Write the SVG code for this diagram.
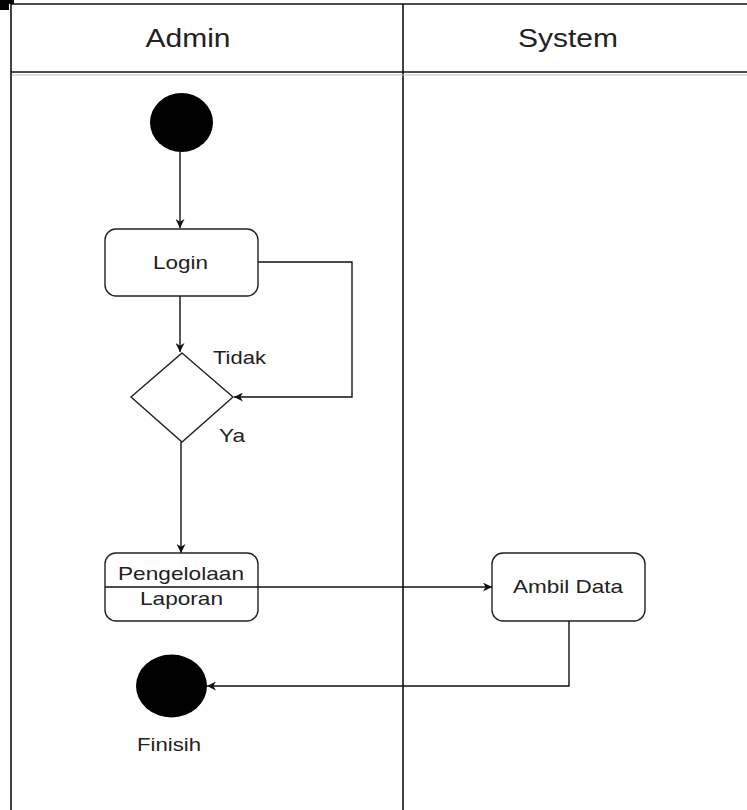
<svg xmlns="http://www.w3.org/2000/svg" width="747" height="810" viewBox="0 0 747 810">
  <defs>
    <style>
      .lane { fill: none; stroke: #111; stroke-width: 1.6; }
      .sep { fill: none; stroke: #bbb; stroke-width: 1.2; }
      .box { fill: #fff; stroke: #222; stroke-width: 1.4; }
      .edge { fill: none; stroke: #111; stroke-width: 1.4; }
      .dot { fill: #000; }
      text { font-family: "Liberation Sans", Arial, sans-serif; fill: #222; }
      .hd { font-size: 26px; text-anchor: middle; }
      .lb { font-size: 19px; text-anchor: middle; }
    </style>
    <marker id="arr" viewBox="0 0 10 10" refX="10" refY="5" markerWidth="9" markerHeight="9" markerUnits="userSpaceOnUse" orient="auto">
      <path d="M0,0 L10,5 L0,10 L3,5 Z" fill="#111"/>
    </marker>
  </defs>
  <rect width="747" height="810" fill="#fff"/>

  <!-- corner mark -->
  <path d="M0,0 H14 V4 H9 V10 H0 Z" fill="#000"/>

  <!-- swimlanes -->
  <g id="lanes">
    <line class="lane" x1="11" y1="4" x2="747" y2="4"/>
    <line class="lane" x1="11" y1="4" x2="11" y2="810"/>
    <line class="lane" x1="403" y1="4" x2="403" y2="810"/>
    <line class="lane" x1="11" y1="72" x2="747" y2="72"/>
    <line class="sep" x1="12" y1="75" x2="747" y2="75"/>
    <text class="hd" x="188" y="47" textLength="85" lengthAdjust="spacingAndGlyphs">Admin</text>
    <text class="hd" x="568" y="47" textLength="100" lengthAdjust="spacingAndGlyphs">System</text>
  </g>

  <!-- connectors -->
  <g id="connectors">
    <path class="edge" d="M180,152 V228" marker-end="url(#arr)"/>
    <path class="edge" d="M180,296 V352" marker-end="url(#arr)"/>
    <path class="edge" d="M258,262 H352 V397 H234" marker-end="url(#arr)"/>
    <path class="edge" d="M181,442 V553" marker-end="url(#arr)"/>
    <path class="edge" d="M105,587 H492" marker-end="url(#arr)"/>
    <path class="edge" d="M569,621 V686 H207" marker-end="url(#arr)"/>
  </g>

  <g id="start">
    <ellipse class="dot" cx="181.5" cy="122.5" rx="31.5" ry="29.5"/>
  </g>

  <g id="login">
    <rect class="box" x="105" y="229" width="153" height="67" rx="11"/>
    <text class="lb" x="180.5" y="269" textLength="55" lengthAdjust="spacingAndGlyphs">Login</text>
  </g>

  <g id="decision">
    <path class="box" d="M182,353 L233,397 L182,442 L131,397 Z"/>
    <text x="213" y="364" font-size="19" textLength="53" lengthAdjust="spacingAndGlyphs">Tidak</text>
    <text x="219" y="442" font-size="19" textLength="26" lengthAdjust="spacingAndGlyphs">Ya</text>
  </g>

  <g id="pengelolaan">
    <rect class="box" x="105" y="553" width="153" height="68" rx="11"/>
    <line class="edge" x1="105" y1="587" x2="258" y2="587"/>
    <text class="lb" x="181" y="580" textLength="126" lengthAdjust="spacingAndGlyphs">Pengelolaan</text>
    <text class="lb" x="181.5" y="605" textLength="83" lengthAdjust="spacingAndGlyphs">Laporan</text>
  </g>

  <g id="ambil-data">
    <rect class="box" x="492" y="553" width="153" height="68" rx="11"/>
    <text class="lb" x="568" y="593" textLength="110" lengthAdjust="spacingAndGlyphs">Ambil Data</text>
  </g>

  <g id="finish">
    <ellipse class="dot" cx="171.5" cy="686" rx="35.5" ry="31.5"/>
    <text class="lb" x="169" y="751" textLength="64" lengthAdjust="spacingAndGlyphs">Finisih</text>
  </g>
</svg>
